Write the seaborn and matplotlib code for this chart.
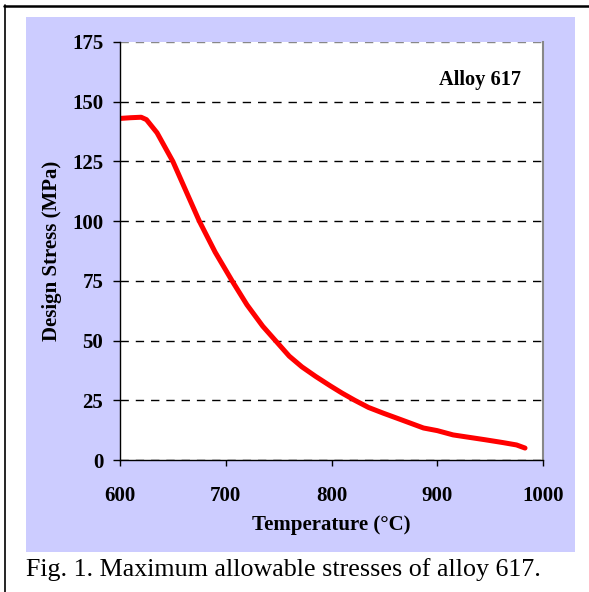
import numpy as np
import pandas as pd
import matplotlib
matplotlib.use('agg')
import matplotlib.pyplot as plt
from matplotlib.patches import Rectangle
from matplotlib.lines import Line2D
import seaborn as sns

# Design stress of alloy 617 vs temperature
temperature = [600, 610, 620, 625, 635, 650, 662, 675, 690, 706, 720, 735, 751, 760,
               772, 785, 799, 810, 822, 835, 849, 865, 887, 900, 915, 930, 945, 962,
               975, 983]
stress = [143, 143.3, 143.5, 142.5, 137, 125, 113, 100, 87, 75, 65, 56, 48, 43.5,
          39, 35, 31, 28, 25, 22, 19.6, 17, 13.4, 12.3, 10.5, 9.5, 8.5, 7.3,
          6.3, 5]
x_ticks = [600, 700, 800, 900, 1000]
y_ticks = [0, 25, 50, 75, 100, 125, 150, 175]

df = pd.DataFrame({'temperature': temperature, 'stress': stress})

sns.set_style('white')
plt.rcParams['font.family'] = ['Liberation Serif', 'DejaVu Serif']
plt.rcParams['text.color'] = 'black'
plt.rcParams['xtick.color'] = 'black'
plt.rcParams['ytick.color'] = 'black'
plt.rcParams['axes.labelcolor'] = 'black'

W, H = 589, 592
fig = plt.figure(figsize=(W / 100, H / 100), dpi=100)
fig.patch.set_facecolor('white')

# lavender panel behind the chart
fig.patches.append(Rectangle((26 / W, 1 - 552 / H), (575 - 26) / W, (552 - 17) / H,
                             transform=fig.transFigure, facecolor='#ccccff',
                             edgecolor='none', zorder=-5))
# outer frame (top and left edges)
fig.lines.append(Line2D([4 / W, 1], [1 - 6 / H, 1 - 6 / H], transform=fig.transFigure,
                        color='black', lw=1.8))
fig.lines.append(Line2D([5 / W, 5 / W], [0, 1 - 5 / H], transform=fig.transFigure,
                        color='black', lw=1.2))

ax = fig.add_axes([120 / W, 1 - 460 / H, (543 - 120) / W, (460 - 42) / H])
ax.set_zorder(1)
ax.set_facecolor('white')

sns.lineplot(data=df, x='temperature', y='stress', color='red', linewidth=3.6, ax=ax)

ax.set_xlim(600, 1000)
ax.set_ylim(0, 175)
ax.set_xticks(x_ticks)
ax.set_yticks(y_ticks)
ax.tick_params(axis='y', direction='out', length=5, width=1, pad=7, labelsize=15,
               left=True)
ax.tick_params(axis='x', direction='out', length=4, width=1, pad=15, labelsize=15,
               bottom=True)
for lab in ax.get_xticklabels() + ax.get_yticklabels():
    lab.set_fontweight('bold')

ax.grid(axis='y', color='black', linestyle=(0, (6, 5)), linewidth=1)
ax.grid(axis='x', visible=False)
fig.canvas.draw()
ax.yaxis.get_gridlines()[-1].set_color('#888888')

for side in ['left', 'bottom']:
    ax.spines[side].set_color('black')
    ax.spines[side].set_linewidth(1)
ax.spines['top'].set_visible(False)
ax.spines['right'].set_color('#888888')
ax.spines['right'].set_linewidth(1.5)

ax.set_xlabel('Temperature (°C)', fontsize=15, fontweight='bold')
ax.set_ylabel('Design Stress (MPa)', fontsize=15, fontweight='bold')
ax.xaxis.set_label_coords(0.5, -0.155)
ax.xaxis.label.set_va('center')
ax.yaxis.set_label_coords(-0.161, 0.5)
ax.yaxis.label.set_va('center')

ax.text(0.948, 0.909, 'Alloy 617', transform=ax.transAxes, ha='right', va='center',
        fontsize=14.7, fontweight='bold')

fig.text(26 / W, 1 - 570 / H, 'Fig. 1. Maximum allowable stresses of alloy 617.',
         ha='left', va='center', fontsize=18.7)

plt.savefig('out.png', dpi=100)
plt.close()
